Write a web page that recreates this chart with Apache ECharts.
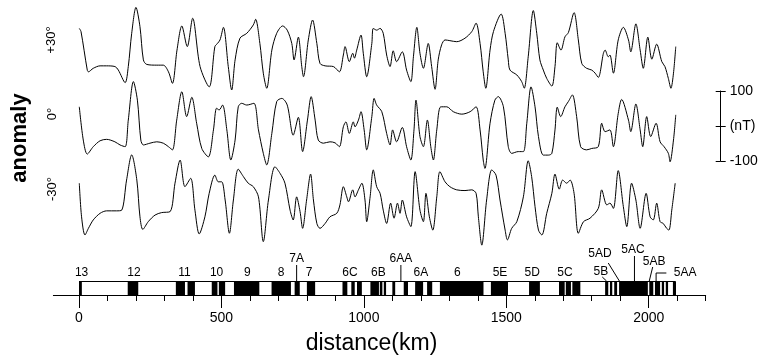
<!DOCTYPE html>
<html><head><meta charset="utf-8">
<script src="https://cdn.jsdelivr.net/npm/echarts@6/dist/echarts.min.js"></script>
<style>html,body{margin:0;padding:0;background:#fff}#c{width:759px;height:358px}</style>
</head><body><div id="c"></div>
<script>
// ---------------- DATA ----------------
// profile +30 deg (distance km, anomaly nT)
const p30Km = [1,7,29,33,50,74,97,126,138,162,173,185,200,214,226,238,273,296,314,328,344,361,380,399,425,457,477,486,495,507,524,536,548,565,589,612,620,635,647,659,677,694,715,731,747,755,770,782,788,805,820,835,846,864,893,914,928,934,949,961,967,975,990,998,1010,1028,1033,1045,1057,1068,1080,1092,1103,1115,1135,1150,1165,1174,1186,1197,1209,1226,1238,1250,1261,1273,1285,1302,1326,1355,1379,1394,1408,1419,1428,1443,1455,1482,1496,1507,1513,1537,1554,1563,1577,1595,1607,1618,1630,1642,1660,1671,1679,1692,1706,1718,1738,1753,1765,1782,1800,1812,1823,1841,1847,1858,1864,1876,1893,1911,1929,1937,1955,1970,1981,1997,2011,2028,2046,2057,2069,2078,2087,2095];
const p30nT = [56,47,-63,-68,-58,-51,-51,-53,-63,-99,-53,42,116,61,-34,-47,-49,-49,-68,-101,-6,63,4,85,-53,-111,4,13,23,59,-53,-120,-34,28,42,66,82,13,-72,-115,-6,42,63,51,13,-34,31,-53,-82,23,80,13,-44,-51,-53,-68,-20,4,-39,-15,-29,-6,37,-15,-82,13,56,51,56,42,-20,-53,-8,-39,-11,-63,-96,-25,59,-15,-58,13,-53,-118,-34,9,23,21,18,28,47,71,13,-68,-115,-6,47,97,42,-34,-63,-77,-96,-115,-25,107,42,-34,-63,-87,-109,-53,15,-6,32,44,101,23,-44,-58,-63,-72,-84,-15,-6,-25,-20,-72,23,59,23,-11,69,-6,-58,31,-32,11,-39,-53,-87,-115,-72,4];
// profile 0 deg
const p0Km = [1,15,29,50,74,97,126,144,162,173,191,205,217,226,249,273,296,314,328,343,361,378,396,413,431,454,472,483,492,504,519,533,548,559,571,589,614,630,647,659,677,694,712,731,752,770,785,802,815,829,840,858,881,899,914,928,937,949,963,969,981,990,1001,1010,1028,1036,1045,1063,1080,1092,1101,1115,1135,1150,1165,1176,1183,1197,1209,1223,1235,1244,1256,1270,1291,1314,1344,1373,1394,1408,1419,1425,1443,1460,1472,1490,1507,1519,1542,1560,1572,1587,1601,1613,1630,1648,1660,1671,1679,1691,1706,1718,1732,1747,1761,1782,1800,1823,1835,1847,1864,1876,1893,1905,1929,1937,1955,1970,1979,1993,2007,2026,2040,2054,2069,2075,2087,2095];
const p0nT = [52,-43,-83,-62,-45,-41,-48,-57,-62,14,124,71,-43,-57,-52,-48,-52,-62,-71,14,95,24,79,5,-67,-91,-14,48,43,57,-14,-100,-43,52,62,57,62,-14,-81,-114,-24,67,76,57,-29,22,-76,14,81,14,-43,-52,-48,-51,-62,-5,9,-24,9,-5,14,38,-14,-71,24,76,57,38,-24,-57,-14,-48,-7,-62,-100,-14,71,-33,-62,14,-62,-100,-14,52,52,38,31,38,52,-14,-100,-124,5,71,81,52,-62,-81,-76,-76,5,109,52,-33,-86,-86,-81,-14,51,24,52,67,86,24,-62,-71,-67,-62,5,-19,-14,-62,33,73,14,-19,60,-14,-62,24,-33,5,-48,-62,-81,-105,-43,29];
// profile -30 deg
const m30Km = [1,9,21,33,50,74,97,132,150,167,185,203,214,224,243,267,290,320,337,355,372,392,407,422,442,457,477,489,501,513,528,542,559,577,594,612,630,647,665,688,706,723,741,752,764,776,785,799,813,823,835,846,864,881,905,916,928,940,946,961,969,981,993,1004,1010,1022,1033,1045,1057,1068,1080,1094,1106,1118,1127,1135,1150,1165,1180,1197,1209,1218,1230,1242,1256,1267,1285,1302,1326,1355,1379,1394,1402,1414,1431,1449,1464,1478,1496,1504,1519,1537,1560,1577,1589,1601,1613,1625,1642,1660,1671,1686,1698,1712,1724,1738,1753,1771,1794,1823,1835,1853,1864,1876,1893,1911,1923,1940,1955,1970,1991,2005,2016,2028,2040,2051,2063,2071,2081,2093];
const m30nT = [48,-48,-100,-81,-57,-38,-31,-31,-29,57,129,57,-48,-84,-62,-43,-36,-33,48,114,38,62,-29,-97,-48,19,71,52,52,0,-95,0,88,67,48,38,9,-119,0,95,76,48,-29,-57,9,-33,-81,0,74,0,-67,-81,-67,-48,-38,-14,38,9,-5,29,9,29,48,0,-62,9,86,38,19,-29,-67,-9,-52,-9,-38,0,-48,-76,81,-29,-62,19,-48,-86,9,81,52,38,29,27,29,19,-48,-129,0,86,71,0,-86,-114,-81,-62,9,112,67,-19,-86,-100,-38,19,74,31,57,48,57,19,-95,-62,-52,-24,29,-14,-9,-24,84,-19,-76,48,0,-81,19,-48,-57,-9,-62,-67,-81,-86,-29,48];
const profileNames = ['+30\u00B0', '0\u00B0', '-30\u00B0'];

// normal-polarity blocks (km start, km end)
const normalStart = [0,171,340,381,466,491,544,676,757,800,925,956,976,1023,1056,1070,1100,1140,1180,1222,1267,1446,1580,1685,1709,1732,1847,1864,1879,1896,2002,2022,2046,2060,2085];
const normalEnd   = [10,208,372,407,486,513,633,744,775,829,942,968,993,1053,1065,1078,1110,1155,1208,1240,1420,1506,1618,1705,1727,1760,1858,1872,1889,1997,2016,2040,2054,2068,2093];
const recordExtent = [0, 2093];

// chron labels
const chronNames = ['13','12','11','10','9','8','7A','7','6C','6B','6AA','6A','6','5E','5D','5C','5B','5AD','5AC','5AB','5AA'];
const chronKm    = [9,193,370,483,591,709,764,808,951,1051,1130,1200,1328,1478,1591,1706,1832,1829,1945,2019,2128];

// axis ticks
const minorTicks = [0,100,200,300,400,500,600,700,800,900,1000,1100,1200,1300,1400,1500,1600,1700,1800,1900,2000,2100,2200];
const majorTicks = [0,500,1000,1500,2000];

// ---------------- LAYOUT / STYLE ----------------
const FONT = '"Liberation Sans", Arial, Helvetica, sans-serif';
const GL = 53.37, GW = 652.3;
const profileTops = [2.5, 79.5, 154.5];
const profileLabelPos = [[51, 40], [52, 114], [52, 189]];
// label row offsets (px from bar top) and leader lines [km, dy] for crowded chrons
const chronLayout = {
  '7A':  {dy: -22, lead: [[764, -16], [764, 0]]},
  '6AA': {dy: -22, lead: [[1130, -16], [1130, 0]]},
  '5B':  {dy: -9,  lead: [[1837, -4], [1852, 0]]},
  '5AD': {dy: -27, lead: [[1858, -18], [1897, 0]]},
  '5AC': {dy: -31, lead: [[1950, -25], [1950, 0]]},
  '5AB': {dy: -19, lead: [[2014, -14], [2002, 0]]},
  '5AA': {dy: -8,  lead: [[2062, -8], [2026, -8], [2026, 0]]}
};

const zip = (a, b) => a.map((v, i) => [v, b[i]]);
const profiles = [zip(p30Km, p30nT), zip(p0Km, p0nT), zip(m30Km, m30nT)];

const chart = echarts.init(document.getElementById('c'), null, {renderer: 'canvas', width: 759, height: 358});

const grids = profileTops.map(t => ({left: GL, width: GW, top: t, height: 91, outerBoundsMode: 'none', containLabel: false}));
grids.push({left: GL, width: GW, top: 281, height: 14, outerBoundsMode: 'none', containLabel: false});
grids.push({left: 719.7, width: 1, top: 91, height: 70, outerBoundsMode: 'none', containLabel: false});

const xAxes = [0, 1, 2].map(i => ({gridIndex: i, type: 'value', min: -90, max: 2200, show: false}));
xAxes.push({gridIndex: 3, type: 'value', position: 'bottom', offset: 0, min: -90, max: 2200,
  axisLine: {show: true, onZero: false, lineStyle: {color: '#000', width: 1}},
  axisTick: {show: true, length: 6, customValues: minorTicks, lineStyle: {color: '#000', width: 1}},
  axisLabel: {show: false}, splitLine: {show: false}});
xAxes.push({gridIndex: 3, type: 'value', position: 'bottom', offset: 0, min: -90, max: 2200,
  axisLine: {show: false, onZero: false},
  axisTick: {show: true, length: 13, customValues: majorTicks, lineStyle: {color: '#000', width: 1}},
  axisLabel: {show: true, customValues: majorTicks, margin: 16, fontSize: 14, color: '#000', fontFamily: FONT,
    formatter: v => String(v)},
  splitLine: {show: false}});
xAxes.push({gridIndex: 4, type: 'value', min: 0, max: 1, show: false});

const yAxes = [0, 1, 2].map(i => ({gridIndex: i, type: 'value', min: -130, max: 130, show: false}));
yAxes.push({gridIndex: 3, type: 'value', min: 0, max: 1, show: false});
yAxes.push({gridIndex: 4, type: 'value', position: 'right', offset: 0, min: -100, max: 100, interval: 100,
  axisLine: {show: true, onZero: false, lineStyle: {color: '#000', width: 1}},
  axisTick: {show: true, length: 5, lineStyle: {color: '#000', width: 1}},
  axisLabel: {show: true, margin: 9, fontSize: 14, color: '#000', fontFamily: FONT, showMinLabel: true, showMaxLabel: true,
    formatter: v => v === 0 ? '(nT)' : String(v)},
  splitLine: {show: false}});
yAxes.push({gridIndex: 4, type: 'value', position: 'right', offset: 0, min: -100, max: 100, interval: 100,
  axisLine: {show: false, onZero: false},
  axisTick: {show: true, inside: true, length: 5, lineStyle: {color: '#000', width: 1}},
  axisLabel: {show: false}, splitLine: {show: false}});

const series = profiles.map((d, i) => ({
  type: 'line', xAxisIndex: i, yAxisIndex: i, data: d, showSymbol: false, symbol: 'none',
  smooth: 0.3, clip: false, silent: true, lineStyle: {color: '#000', width: 1}
}));

series.push({
  type: 'custom', xAxisIndex: 3, yAxisIndex: 3, silent: true, z: 3,
  data: normalStart.map((s, i) => [s, normalEnd[i]]), encode: {x: [0, 1]},
  renderItem: (params, api) => {
    const a = api.coord([api.value(0), 1]), b = api.coord([api.value(1), 0]);
    return {type: 'rect', shape: {x: a[0], y: a[1], width: b[0] - a[0], height: b[1] - a[1]}, style: {fill: '#000'}};
  }
});
series.push({
  type: 'custom', xAxisIndex: 3, yAxisIndex: 3, silent: true, z: 4,
  data: [recordExtent], encode: {x: [0, 1]},
  renderItem: (params, api) => {
    const a = api.coord([api.value(0), 1]), b = api.coord([api.value(1), 0]);
    return {type: 'rect', shape: {x: Math.round(a[0]) + 0.5, y: Math.round(a[1]) + 0.5, width: Math.round(b[0] - a[0]), height: Math.round(b[1] - a[1])},
      style: {fill: 'none', stroke: '#000', lineWidth: 1}};
  }
});
series.push({
  type: 'custom', xAxisIndex: 3, yAxisIndex: 3, silent: true, z: 5,
  data: chronKm.map(k => [k, 1]), encode: {x: 0, y: 1},
  renderItem: (params, api) => {
    const name = chronNames[params.dataIndex];
    const p = api.coord([api.value(0), 1]);
    const top = p[1];
    const lay = chronLayout[name] || {dy: -8};
    const children = [{type: 'text', x: p[0], y: top + lay.dy,
      style: {text: name, fill: '#000', font: '12px ' + FONT, textAlign: 'center', textVerticalAlign: 'middle'}}];
    if (lay.lead) {
      const pts = lay.lead.map(q => [api.coord([q[0], 1])[0], top + q[1]]);
      children.push({type: 'polyline', shape: {points: pts}, style: {stroke: '#000', lineWidth: 1, fill: 'none'}});
    }
    return {type: 'group', children};
  }
});

const graphic = profileNames.map((t, i) => ({
  type: 'text', x: profileLabelPos[i][0], y: profileLabelPos[i][1], rotation: Math.PI / 2,
  style: {text: t, fill: '#000', font: '13px ' + FONT, textAlign: 'center', textVerticalAlign: 'middle'}
}));
graphic.push({type: 'text', x: 20, y: 138, rotation: Math.PI / 2,
  style: {text: 'anomaly', fill: '#000', font: 'bold 22px ' + FONT, textAlign: 'center', textVerticalAlign: 'middle'}});
graphic.push({type: 'text', x: 371.5, y: 344,
  style: {text: 'distance(km)', fill: '#000', font: '23px ' + FONT, textAlign: 'center', textVerticalAlign: 'middle'}});

chart.setOption({
  animation: false, backgroundColor: '#fff',
  grid: grids, xAxis: xAxes, yAxis: yAxes, series, graphic
});
</script></body></html>
